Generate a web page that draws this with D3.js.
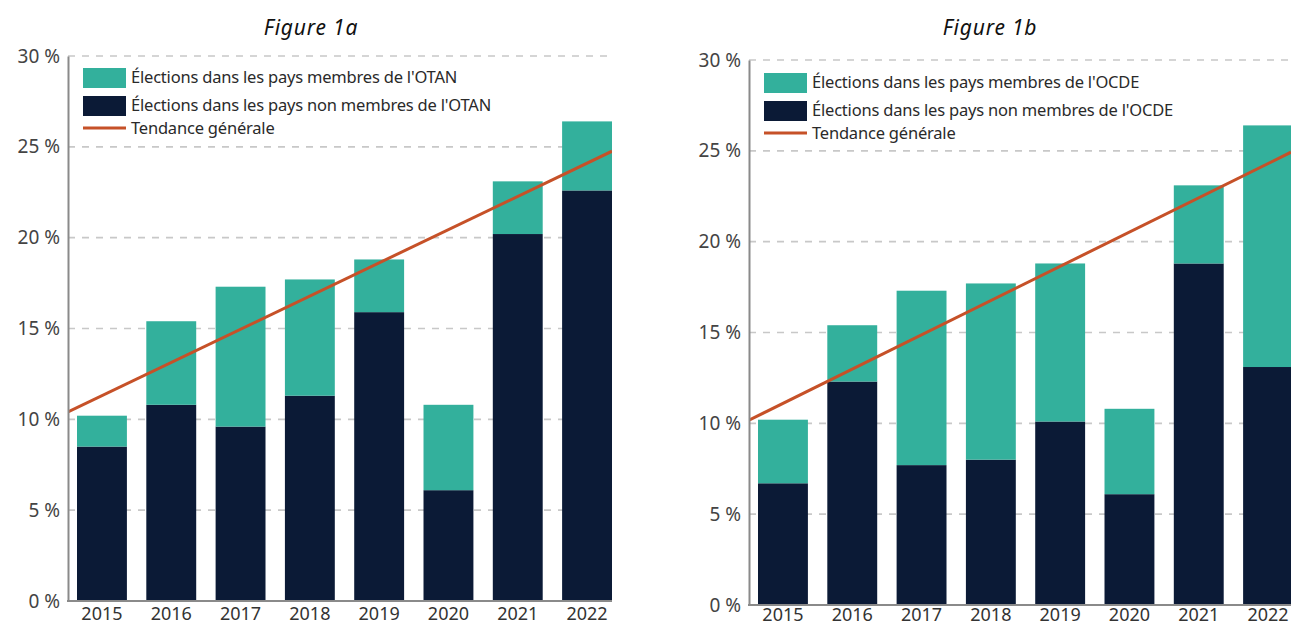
<!DOCTYPE html>
<html lang="fr">
<head>
<meta charset="utf-8">
<script src="https://cdn.jsdelivr.net/npm/d3@7"></script>
<style>
  html, body { margin: 0; padding: 0; background: #fff; }
  svg { display: block; font-family: "Noto Sans", "Open Sans", sans-serif; }
</style>
</head>
<body>
<svg id="chart" width="1298" height="628"></svg>
<script>
// Years shown on both panels
const years = ["2015", "2016", "2017", "2018", "2019", "2020", "2021", "2022"];

// Share of elections (%) — total per year
const totalShare = [10.2, 15.4, 17.3, 17.7, 18.8, 10.8, 23.1, 26.4];

// Figure 1a: elections in non-NATO countries (dark segment)
const nonNatoShare = [8.5, 10.8, 9.6, 11.3, 15.9, 6.1, 20.2, 22.6];
// Figure 1b: elections in non-OECD countries (dark segment)
const nonOecdShare = [6.7, 12.3, 7.7, 8.0, 10.1, 6.1, 18.8, 13.1];

// General trend, value at first and last year
const trendA = [11.3, 24.1];
const trendB = [11.1, 24.3];

const yTicks = [0, 5, 10, 15, 20, 25, 30];

const colMember = "#33b09c";
const colNonMember = "#0b1a36";
const colTrend = "#c65128";

const svg = d3.select("#chart");

function panel(cfg) {
  const g = svg.append("g");
  const y = d3.scaleLinear().domain([0, 30]).range([cfg.y0, cfg.y30]);
  const x = d3.scaleBand().domain(years)
    .range([cfg.ax, cfg.ax + 69.3 * (years.length - 0.28 + 0.26)])
    .paddingInner(0.28).paddingOuter(0.13);

  const clipId = "clip" + cfg.id;
  svg.append("defs").append("clipPath").attr("id", clipId)
    .append("rect").attr("x", cfg.ax).attr("y", 0)
    .attr("width", cfg.right - cfg.ax).attr("height", 628);

  // title
  g.append("text").attr("x", cfg.titleX).attr("y", 35)
    .attr("text-anchor", "middle").attr("font-style", "italic")
    .attr("font-size", 21).attr("fill", "#111").attr("letter-spacing", "0.8")
    .text(cfg.title);

  // dashed gridlines
  g.append("g").selectAll("line").data(yTicks.filter(d => d > 0)).join("line")
    .attr("x1", cfg.ax).attr("x2", cfg.right)
    .attr("y1", d => y(d)).attr("y2", d => y(d))
    .attr("stroke", "#c8c8c8").attr("stroke-width", 1.6)
    .attr("stroke-dasharray", "7,7");

  const plot = g.append("g").attr("clip-path", `url(#${clipId})`);

  // stacked bars: dark = non-member, teal on top = member
  plot.append("g").selectAll("rect").data(years).join("rect")
    .attr("x", d => x(d)).attr("width", x.bandwidth())
    .attr("y", (d, i) => y(cfg.dark[i]))
    .attr("height", (d, i) => y(0) - y(cfg.dark[i]))
    .attr("fill", colNonMember);
  plot.append("g").selectAll("rect").data(years).join("rect")
    .attr("x", d => x(d)).attr("width", x.bandwidth())
    .attr("y", (d, i) => y(totalShare[i]))
    .attr("height", (d, i) => y(cfg.dark[i]) - y(totalShare[i]))
    .attr("fill", colMember);

  // trend line, extended to the plot edges
  const c0 = x(years[0]) + x.bandwidth() / 2;
  const c1 = x(years[years.length - 1]) + x.bandwidth() / 2;
  const slope = (cfg.trend[1] - cfg.trend[0]) / (c1 - c0);
  const tv = px => cfg.trend[0] + slope * (px - c0);
  plot.append("line")
    .attr("x1", cfg.ax).attr("y1", y(tv(cfg.ax)))
    .attr("x2", cfg.right).attr("y2", y(tv(cfg.right)))
    .attr("stroke", colTrend).attr("stroke-width", 3);

  // axes
  const yAxis = d3.axisLeft(y).tickValues(yTicks).tickSize(0).tickPadding(8)
    .tickFormat(d => d + " %");
  const ya = g.append("g").attr("transform", `translate(${cfg.ax},0)`).call(yAxis);
  ya.select(".domain").attr("stroke", "#8a8a8a").attr("stroke-width", 2);
  ya.selectAll("text").attr("font-size", 19).attr("fill", "#444")
    .attr("font-family", "'Noto Sans', sans-serif");

  const xAxis = d3.axisBottom(x).tickSize(0).tickPadding(cfg.xPad);
  const xa = g.append("g").attr("transform", `translate(0,${cfg.y0})`).call(xAxis);
  xa.select(".domain").remove();
  xa.selectAll("text").attr("font-size", 18).attr("fill", "#333")
    .attr("font-family", "'Noto Sans', sans-serif");
  g.append("line").attr("x1", cfg.ax - 1).attr("x2", cfg.right)
    .attr("y1", cfg.y0).attr("y2", cfg.y0)
    .attr("stroke", "#8a8a8a").attr("stroke-width", 2);

  // legend
  const lg = g.append("g").attr("transform", `translate(${cfg.ax + 15},${cfg.legY})`);
  const items = [
    { t: cfg.legMember, c: colMember, kind: "box" },
    { t: cfg.legNon, c: colNonMember, kind: "box" },
    { t: "Tendance générale", c: colTrend, kind: "line" }
  ];
  items.forEach((it, i) => {
    const yy = i * 28;
    if (it.kind === "box") {
      lg.append("rect").attr("x", 0).attr("y", yy).attr("width", 43).attr("height", 20).attr("fill", it.c);
    } else {
      lg.append("line").attr("x1", 0).attr("x2", 43).attr("y1", yy + 4).attr("y2", yy + 4)
        .attr("stroke", it.c).attr("stroke-width", 3);
    }
    lg.append("text").attr("x", 48).attr("y", it.kind === "box" ? yy + 15 : yy + 9.5)
      .attr("font-size", 16.5).attr("fill", "#2a2a2a").attr("letter-spacing", "-0.2").text(it.t);
  });
}

panel({
  id: "a", title: "Figure 1a", titleX: 311,
  ax: 68, right: 612, y0: 601, y30: 56, legY: 68, xPad: 6,
  dark: nonNatoShare, trend: trendA,
  legMember: "Élections dans les pays membres de l'OTAN",
  legNon: "Élections dans les pays non membres de l'OTAN"
});

panel({
  id: "b", title: "Figure 1b", titleX: 990,
  ax: 749, right: 1291, y0: 605, y30: 60, legY: 73, xPad: 3,
  dark: nonOecdShare, trend: trendB,
  legMember: "Élections dans les pays membres de l'OCDE",
  legNon: "Élections dans les pays non membres de l'OCDE"
});
</script>
</body>
</html>
